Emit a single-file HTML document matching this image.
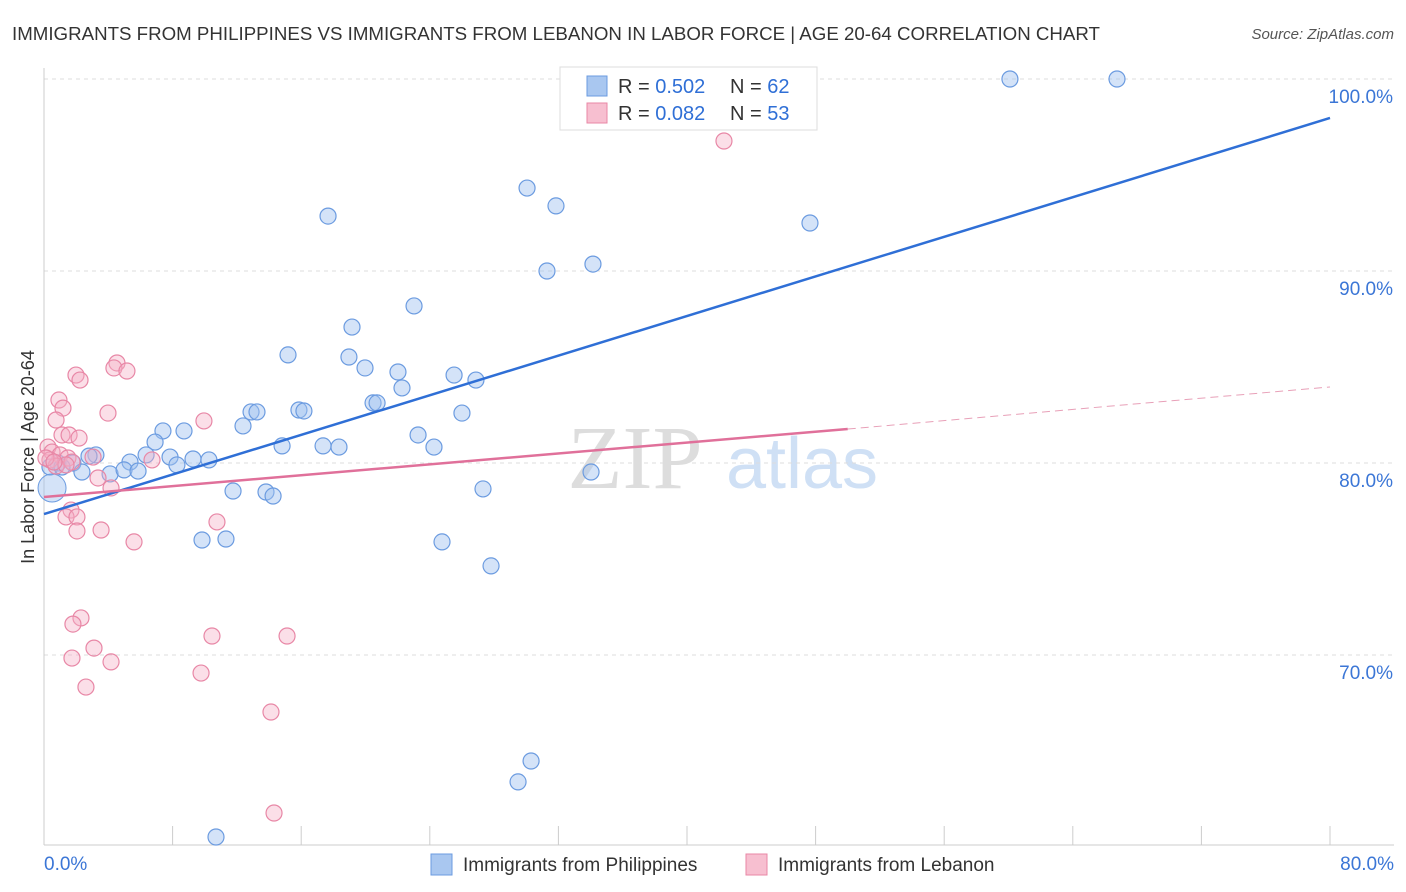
<!DOCTYPE html>
<html><head><meta charset="utf-8">
<style>
body{margin:0;background:#fff;font-family:"Liberation Sans",sans-serif;}
#wrap{position:relative;width:1406px;height:892px;overflow:hidden;}
</style></head>
<body>
<div id="wrap">
<svg id="svg" width="1406" height="892" xmlns="http://www.w3.org/2000/svg">
<text x="12" y="40" font-size="18" fill="#333" textLength="1088" lengthAdjust="spacingAndGlyphs">IMMIGRANTS FROM PHILIPPINES VS IMMIGRANTS FROM LEBANON IN LABOR FORCE | AGE 20-64 CORRELATION CHART</text>
<text x="1394" y="39" font-size="15" fill="#555" font-style="italic" text-anchor="end">Source: ZipAtlas.com</text>
<text x="635" y="488" font-size="90" fill="#ddd" font-family="Liberation Serif" text-anchor="middle">ZIP</text>
<text x="802" y="488" font-size="72" fill="#cfe0f5" text-anchor="middle">atlas</text>
<text transform="translate(34,457) rotate(-90)" font-size="18" fill="#333" text-anchor="middle">In Labor Force | Age 20-64</text>
<g id="grid"></g><g id="marks"></g><g id="lines"></g>
<g>
<rect x="560" y="67" width="257" height="63" fill="#fff" stroke="#ddd"/>
<rect x="587" y="76" width="20" height="20" fill="#a9c7f0" stroke="#6b9be0"/>
<rect x="587" y="103" width="20" height="20" fill="#f7bfd0" stroke="#e887a6"/>
<text x="618" y="93" font-size="20" fill="#333">R = <tspan fill="#2f6fd6">0.502</tspan></text>
<text x="730" y="93" font-size="20" fill="#333">N = <tspan fill="#2f6fd6">62</tspan></text>
<text x="618" y="120" font-size="20" fill="#333">R = <tspan fill="#2f6fd6">0.082</tspan></text>
<text x="730" y="120" font-size="20" fill="#333">N = <tspan fill="#2f6fd6">53</tspan></text>
</g>
<g>
<rect x="431" y="854" width="21" height="21" fill="#a9c7f0" stroke="#6b9be0"/>
<text x="463" y="871" font-size="19" fill="#333">Immigrants from Philippines</text>
<rect x="746" y="854" width="21" height="21" fill="#f7bfd0" stroke="#e887a6"/>
<text x="778" y="871" font-size="19" fill="#333">Immigrants from Lebanon</text>
</g>
</svg>
</div>
<script>
const yTicks=[70,80,90,100];
const yTickLabels=["70.0%","80.0%","90.0%","100.0%"];
const xTickVals=[0,8,16,24,32,40,48,56,64,72,80];
const xLabels=["0.0%","80.0%"];
const bluePx=[[1010,79],[1117,79],[527,188],[556,206],[328,216],[810,223],[547,271],[593,264],[414,306],[352,327],[288,355],[349,357],[365,368],[398,372],[454,375],[476,380],[402,388],[373,403],[377,403],[462,413],[251,412],[257,412],[299,410],[304,411],[243,426],[184,431],[163,431],[155,442],[418,435],[434,447],[282,446],[323,446],[339,447],[146,455],[170,457],[193,459],[209,460],[96,455],[89,456],[130,462],[177,465],[73,463],[58,463],[50,467],[110,474],[124,470],[138,471],[82,472],[591,472],[483,489],[233,491],[266,492],[273,496],[202,540],[226,539],[442,542],[491,566],[531,761],[518,782],[216,837],[62,467]];
const pinkPx=[[724,141],[117,363],[114,368],[127,371],[76,375],[80,380],[59,400],[63,408],[108,413],[204,421],[56,420],[62,435],[69,435],[79,438],[48,447],[52,452],[60,455],[68,458],[93,457],[152,460],[72,462],[50,460],[56,466],[66,465],[98,478],[111,488],[71,510],[66,517],[77,517],[101,530],[77,531],[217,522],[134,542],[81,618],[73,624],[94,648],[212,636],[287,636],[72,658],[111,662],[86,687],[201,673],[271,712],[274,813],[46,458],[54,462]];
const blueX=bluePx.map(p=>+((p[0]-44)/16.075).toFixed(2));
const blueY=bluePx.map(p=>+(100-(p[1]-79)/19.2).toFixed(2));
const pinkX=pinkPx.map(p=>+((p[0]-44)/16.075).toFixed(2));
const pinkY=pinkPx.map(p=>+(100-(p[1]-79)/19.2).toFixed(2));
const blueTrend=[[0,77.34],[80,97.97]];
const pinkTrend=[[0,78.23],[50,81.77],[80,83.96]];

const X=v=>44+v*16.075, Y=v=>79+(100-v)*19.2;
const NS="http://www.w3.org/2000/svg";
function mk(tag,attrs,parent){const e=document.createElementNS(NS,tag);for(const k in attrs)e.setAttribute(k,attrs[k]);parent.appendChild(e);return e;}
const grid=document.getElementById('grid'),marks=document.getElementById('marks'),lines=document.getElementById('lines');
yTicks.forEach((t,i)=>{
 const l=mk('line',{x1:44,x2:1394,y1:Y(t),y2:Y(t),stroke:'#ddd','stroke-dasharray':'4,4'},grid);
 
 
 const tx=mk('text',{x:1393,y:Y(t)+24,'font-size':19,fill:'#3b76d6','text-anchor':'end'},grid);
 tx.textContent=yTickLabels[i];
 
 
});
const ax=mk('line',{x1:44,x2:1394,y1:845,y2:845,stroke:'#ccc'},grid);


const yax=mk('line',{x1:44,x2:44,y1:68,y2:845,stroke:'#ccc'},grid);


xTickVals.forEach(t=>{
 const l=mk('line',{x1:X(t),x2:X(t),y1:826,y2:845,stroke:'#ccc'},grid);
 
 
});
[[0,'start',44],[80,'end',1394]].forEach((d,i)=>{
 const tx=mk('text',{x:d[2],y:870,'font-size':19,fill:'#3b76d6','text-anchor':d[1]},grid);
 tx.textContent=xLabels[i];
 
 
});
blueX.forEach((x,i)=>{
 const c=mk('circle',{cx:X(x),cy:Y(blueY[i]),r:8,fill:'rgba(160,194,240,0.45)',stroke:'#6b9be0','stroke-width':1.2},marks);
 
 
});
const big=mk('circle',{cx:X(0.5),cy:Y(78.7),r:14,fill:'rgba(160,194,240,0.45)',stroke:'#6b9be0'},marks);


pinkX.forEach((x,i)=>{
 const c=mk('circle',{cx:X(x),cy:Y(pinkY[i]),r:8,fill:'rgba(245,175,198,0.4)',stroke:'#e887a6','stroke-width':1.2},marks);
 
 
});
const bl=mk('line',{x1:X(blueTrend[0][0]),y1:Y(blueTrend[0][1]),x2:X(blueTrend[1][0]),y2:Y(blueTrend[1][1]),stroke:'#2f6fd6','stroke-width':2.5},lines);


const pl=mk('line',{x1:X(pinkTrend[0][0]),y1:Y(pinkTrend[0][1]),x2:X(pinkTrend[1][0]),y2:Y(pinkTrend[1][1]),stroke:'#e0709a','stroke-width':2.5},lines);


const pd=mk('line',{x1:X(pinkTrend[1][0]),y1:Y(pinkTrend[1][1]),x2:X(pinkTrend[2][0]),y2:Y(pinkTrend[2][1]),stroke:'#e8a0b8','stroke-width':1,'stroke-dasharray':'8,5'},lines);


</script>
</body></html>
